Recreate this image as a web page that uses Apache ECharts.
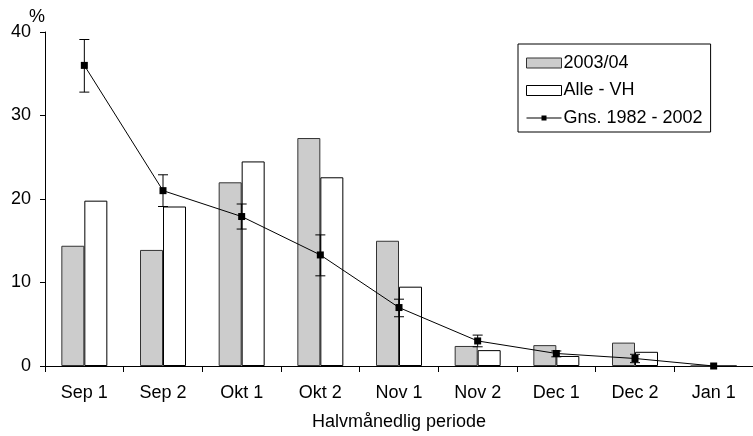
<!DOCTYPE html>
<html><head><meta charset="utf-8">
<script src="https://cdn.jsdelivr.net/npm/echarts@6/dist/echarts.min.js"></script>
<style>html,body{margin:0;padding:0;background:#fff}#c{width:753px;height:436px}</style>
</head><body><div id="c"></div>
<script>
const categories = ['Sep 1','Sep 2','Okt 1','Okt 2','Nov 1','Nov 2','Dec 1','Dec 2','Jan 1'];
const season2003 = [14.4, 13.9, 22.0, 27.3, 15.0, 2.4, 2.5, 2.8, 0];
const alleVH = [19.8, 19.1, 24.5, 22.6, 9.5, 1.9, 1.2, 1.7, 0];
const avg8202 = [36.0, 21.0, 17.9, 13.3, 7.0, 3.0, 1.5, 0.9, 0];
const errHigh = [39.1, 22.9, 19.4, 15.7, 8.0, 3.7, 1.8, 1.4, null];
const errLow = [32.8, 19.1, 16.4, 10.8, 5.9, 2.3, 1.1, 0.4, null];
const yTicks = [0, 10, 20, 30, 40];

const font = 'Liberation Sans, Arial, sans-serif';
const errData = categories.map((c, i) => [i, errLow[i], errHigh[i]]).filter(d => d[1] != null);

const chart = echarts.init(document.getElementById('c'), null, {renderer: 'canvas'});
chart.setOption({
  animation: false,
  backgroundColor: '#fff',
  textStyle: {fontFamily: font},
  grid: {left: 45, top: 32, width: 712, bottom: 70, containLabel: false},
  legend: {
    orient: 'vertical', left: 518, top: 44,
    padding: [10, 8, 5, 8], itemGap: 9.5,
    borderColor: '#000', borderWidth: 1, backgroundColor: '#fff',
    itemWidth: 35, itemHeight: 10,
    textStyle: {fontFamily: font, fontSize: 18, color: '#000', padding: [0, 0, 0, -3]},
    data: [
      {name: '2003/04', icon: 'rect', itemStyle: {color: '#cccccc', borderColor: '#333', borderWidth: 1}},
      {name: 'Alle - VH', icon: 'rect', itemStyle: {color: '#ffffff', borderColor: '#000', borderWidth: 1}},
      {name: 'Gns. 1982 - 2002',
        icon: 'path://M0,4.6H35V5.4H0Z M15,2.5H20V7.5H15Z',
        itemStyle: {color: '#000', borderWidth: 0}}
    ]
  },
  xAxis: {
    type: 'category', data: categories, boundaryGap: true,
    axisLine: {lineStyle: {color: '#000', width: 1}},
    axisTick: {show: true, interval: 0, length: 6, lineStyle: {color: '#000'}},
    axisLabel: {fontFamily: font, fontSize: 18, color: '#000', margin: 18, interval: 0},
    name: 'Halvmånedlig periode', nameLocation: 'middle', nameGap: 47,
    nameTextStyle: {fontFamily: font, fontSize: 18, color: '#000'}
  },
  yAxis: {
    type: 'value', min: yTicks[0], max: yTicks[yTicks.length - 1], interval: 10,
    axisLine: {show: true, lineStyle: {color: '#000', width: 1}},
    axisTick: {show: true, length: 5, lineStyle: {color: '#000'}},
    axisLabel: {fontFamily: font, fontSize: 18, color: '#000', margin: 14},
    splitLine: {show: false}
  },
  graphic: [{type: 'text', left: 29, top: 8, style: {text: '%', font: '18px ' + font, fill: '#000'}}],
  series: [
    {name: '2003/04', type: 'bar', data: season2003, barWidth: 23, barGap: '0%',
      itemStyle: {color: '#cccccc', borderColor: '#333', borderWidth: 1}},
    {name: 'Alle - VH', type: 'bar', data: alleVH, barWidth: 23, barGap: '0%',
      itemStyle: {color: '#ffffff', borderColor: '#000', borderWidth: 1}},
    {name: 'Gns. 1982 - 2002', type: 'line', data: avg8202, smooth: false, z: 5,
      symbol: 'rect', symbolSize: 7,
      lineStyle: {color: '#000', width: 1}, itemStyle: {color: '#000'}},
    {name: 'err', type: 'custom', z: 4, data: errData,
      renderItem: function (params, api) {
        const x = api.value(0);
        const lo = api.coord([x, api.value(1)]);
        const hi = api.coord([x, api.value(2)]);
        const w = 5;
        const s = {stroke: '#000', lineWidth: 1};
        return {type: 'group', children: [
          {type: 'line', shape: {x1: lo[0], y1: lo[1], x2: hi[0], y2: hi[1]}, style: s},
          {type: 'line', shape: {x1: lo[0] - w, y1: lo[1], x2: lo[0] + w, y2: lo[1]}, style: s},
          {type: 'line', shape: {x1: hi[0] - w, y1: hi[1], x2: hi[0] + w, y2: hi[1]}, style: s}
        ]};
      }}
  ]
});
</script></body></html>
